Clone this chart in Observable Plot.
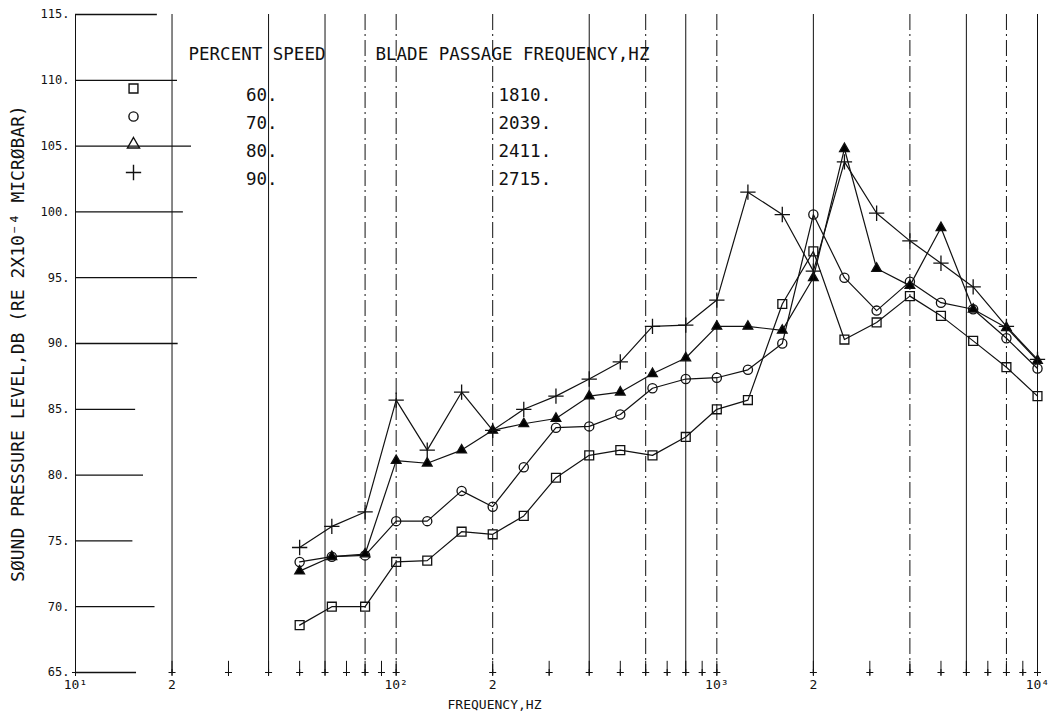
<!DOCTYPE html>
<html>
<head>
<meta charset="utf-8">
<script src="https://cdn.jsdelivr.net/npm/d3@7"></script>
<script src="https://cdn.jsdelivr.net/npm/@observablehq/plot@0.6"></script>
<style>
  body { margin: 0; background: #fff; }
  #chart { width: 1062px; height: 722px; }
</style>
</head>
<body>
<div id="chart"></div>
<script>
// ---- Data ----
const frequencies = [50, 63, 80, 100, 125, 160, 200, 250, 315, 400, 500, 630, 800, 1000, 1250, 1600, 2000, 2500, 3150, 4000, 5000, 6300, 8000, 10000];
const spl60 = [68.6, 70.0, 70.0, 73.4, 73.5, 75.7, 75.5, 76.9, 79.8, 81.5, 81.9, 81.5, 82.9, 85.0, 85.7, 93.0, 97.0, 90.3, 91.6, 93.6, 92.1, 90.2, 88.2, 86.0];
const spl70 = [73.4, 73.8, 73.9, 76.5, 76.5, 78.8, 77.6, 80.6, 83.6, 83.7, 84.6, 86.6, 87.3, 87.4, 88.0, 90.0, 99.8, 95.0, 92.5, 94.7, 93.1, 92.6, 90.4, 88.1];
const spl80 = [72.7, 73.8, 74.0, 81.1, 80.9, 81.9, 83.4, 83.9, 84.3, 86.0, 86.3, 87.7, 88.9, 91.3, 91.3, 91.0, 95.0, 104.8, 95.7, 94.4, 98.8, 92.6, 91.2, 88.7];
const spl90 = [74.5, 76.1, 77.2, 85.7, 81.9, 86.3, 83.4, 85.0, 86.0, 87.3, 88.6, 91.3, 91.4, 93.3, 101.5, 99.8, 95.5, 103.8, 99.9, 97.8, 96.1, 94.3, 91.3, 88.8];
const percentSpeeds = ["60.", "70.", "80.", "90."];
const bladePassageFreqs = ["1810.", "2039.", "2411.", "2715."];
const yTickValues = [65, 70, 75, 80, 85, 90, 95, 100, 105, 110, 115];
const xLabelValues = [10, 20, 40, 60, 80, 100, 200, 400, 600, 800, 1000, 2000, 4000, 6000, 8000, 10000];
const xTickLabels = ["10¹", "2", "4", "6", "8", "10²", "2", "4", "6", "8", "10³", "2", "4", "6", "8", "10⁴"];
const minorTickValues = [10, 20, 30, 40, 50, 60, 70, 80, 90, 100, 200, 300, 400, 500, 600, 700, 800, 900, 1000, 2000, 3000, 4000, 5000, 6000, 7000, 8000, 9000, 10000];
const solidGridFreqs = [10, 20, 40, 60, 400, 800, 2000, 6000, 10000];
const dashedGridFreqs = [80, 100, 200, 600, 1000, 4000, 8000];

// ---- Build table ----
const seriesDefs = [
  {speed: percentSpeeds[0], values: spl60, symbol: "square", r: 5, fill: "none"},
  {speed: percentSpeeds[1], values: spl70, symbol: "circle", r: 4.6, fill: "none"},
  {speed: percentSpeeds[2], values: spl80, symbol: "triangle", r: 3.6, fill: "black"},
  {speed: percentSpeeds[3], values: spl90, symbol: "plus", r: 5, fill: "none"}
];
const rows = seriesDefs.flatMap(s => frequencies.map((f, i) => ({f, spl: s.values[i], speed: s.speed})));
const xLabelMap = new Map(xLabelValues.map((v, i) => [v, xTickLabels[i]]));

// left tick-line extents (Hz) as drawn on the original plot
const tickLineEnds = new Map([[65, 15.5], [70, 17.7], [75, 15.1], [80, 16.3], [85, 15.4], [90, 20.9], [95, 24.0], [100, 21.7], [105, 23], [110, 20.8], [115, 18.0]]);

const FONT = "'DejaVu Sans Mono', monospace";
const INK = "#111";

const legendMarks = [];
legendMarks.push(Plot.text(["PERCENT SPEED"], {frameAnchor: "top-left", dx: 113, dy: 33, textAnchor: "start", fontSize: 17.5, fill: INK}));
legendMarks.push(Plot.text(["BLADE PASSAGE FREQUENCY,HZ"], {frameAnchor: "top-left", dx: 300, dy: 33, textAnchor: "start", fontSize: 17.5, fill: INK}));
seriesDefs.forEach((s, i) => {
  const dy = 74 + i * 28;
  legendMarks.push(Plot.dot([0], {frameAnchor: "top-left", dx: 58, dy, symbol: s.symbol, r: s.symbol === "triangle" ? 4.5 : s.r, stroke: INK, fill: "none", strokeWidth: 1.4}));
  legendMarks.push(Plot.text([s.speed], {frameAnchor: "top-left", dx: 202, dy, textAnchor: "end", fontSize: 17.5, fill: INK}));
  legendMarks.push(Plot.text([bladePassageFreqs[i]], {frameAnchor: "top-left", dx: 423, dy, textAnchor: "start", fontSize: 17.5, fill: INK}));
});

const chart = Plot.plot({
  width: 1062,
  height: 722,
  marginLeft: 75,
  marginRight: 25,
  marginTop: 14,
  marginBottom: 50,
  style: {fontFamily: FONT, background: "white", color: INK},
  x: {type: "log", domain: [10, 10000]},
  y: {domain: [65, 115]},
  marks: [
    Plot.ruleX(solidGridFreqs, {x: d => d, stroke: INK, strokeWidth: 1}),
    Plot.ruleX(dashedGridFreqs, {x: d => d, stroke: INK, strokeWidth: 1, strokeDasharray: "16,4,2,4"}),
    Plot.ruleY(yTickValues, {y: d => d, x1: 10, x2: d => tickLineEnds.get(d), stroke: INK, strokeWidth: 1.3}),
    Plot.ruleX(minorTickValues, {x: d => d, y1: 64.75, y2: 65.85, stroke: INK, strokeWidth: 1}),
    Plot.dot(minorTickValues, {x: d => d, y: () => 65, symbol: "plus", r: 2.4, stroke: INK, strokeWidth: 1}),
    Plot.axisY({ticks: yTickValues, tickSize: 0, tickPadding: 6, tickFormat: d => d + ".", fontSize: 12, label: null}),
    Plot.axisX({ticks: xLabelValues, tickSize: 0, tickPadding: 7, tickFormat: d => xLabelMap.get(d), fontSize: 13, label: null}),
    Plot.text(["SØUND PRESSURE LEVEL,DB (RE 2X10⁻⁴ MICRØBAR)"], {frameAnchor: "left", textAnchor: "middle", rotate: -90, dx: -57, fontSize: 18, fill: INK}),
    Plot.text(["FREQUENCY,HZ"], {frameAnchor: "bottom", textAnchor: "middle", dx: -62, dy: 36, fontSize: 13, fill: INK}),
    Plot.line(rows, {x: "f", y: "spl", z: "speed", stroke: INK, strokeWidth: 1.2}),
    ...seriesDefs.map(s => Plot.dot(rows.filter(d => d.speed === s.speed), {x: "f", y: "spl", symbol: s.symbol, r: s.r, stroke: INK, fill: s.fill, strokeWidth: 1.3})),
    ...legendMarks
  ]
});
document.getElementById("chart").appendChild(chart);
</script>
</body>
</html>
